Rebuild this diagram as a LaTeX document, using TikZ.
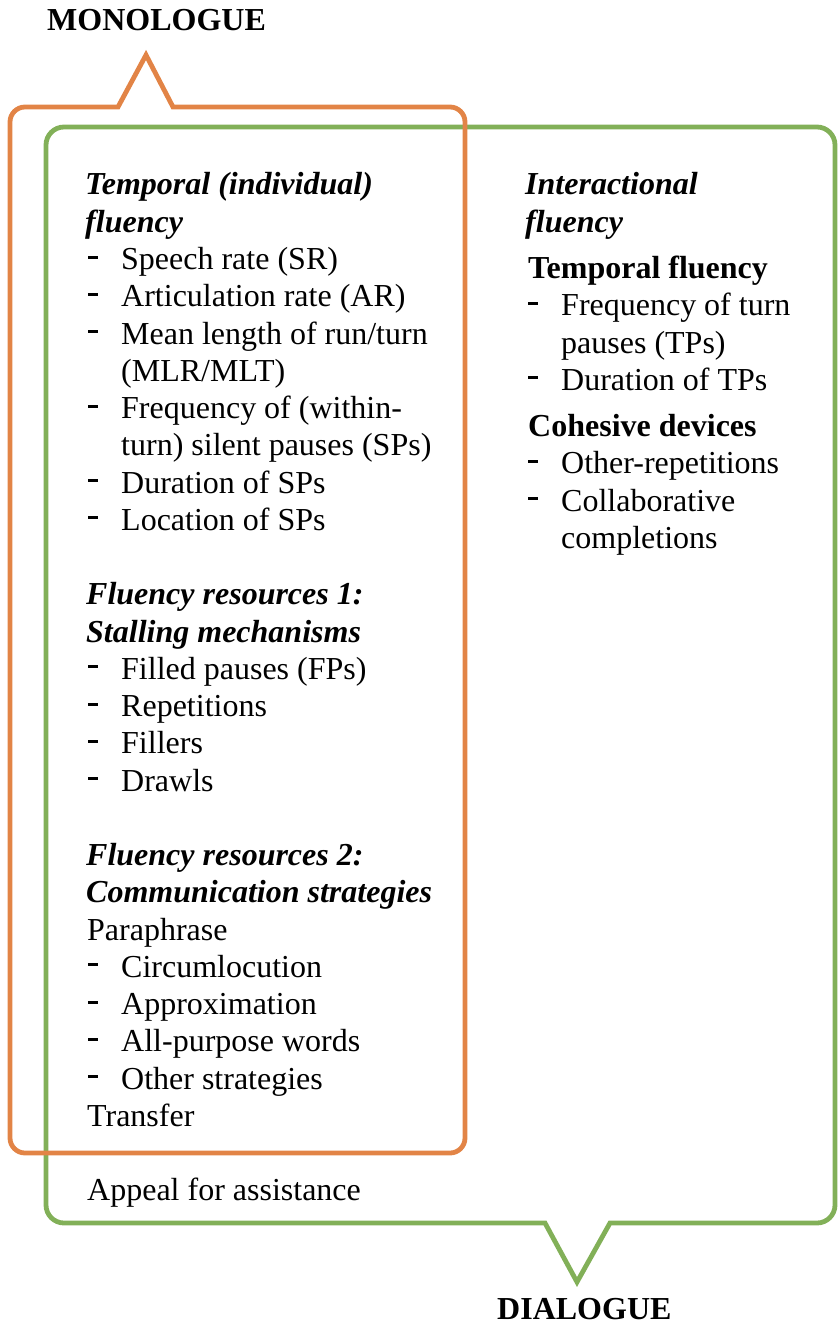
\documentclass[tikz,border=0pt]{standalone}
\usepackage{fontspec}
\setmainfont{Liberation Serif}

\definecolor{monoorange}{RGB}{226,132,70}
\definecolor{dialoggreen}{RGB}{130,176,88}

\newcommand{\dashitem}{\makebox[33pt][l]{\rule[11pt]{10pt}{3pt}}}

\tikzset{
    txt/.style={anchor=base west, inner sep=0pt, font=\fontsize{32}{37}\selectfont},
    head/.style={txt, font=\fontsize{32}{37}\selectfont\bfseries\itshape},
    subhead/.style={txt, font=\fontsize{32}{37}\selectfont\bfseries},
    frame/.style={line width=4.8pt, line join=miter},
}

\begin{document}
\begin{tikzpicture}[x=1pt, y=1pt]
            \useasboundingbox (0,0) rectangle (838,-1324);
            % Rahmen Dialog:
            \draw[frame, dialoggreen] (545,-1223) -- (64,-1223)
                arc[start angle=270, end angle=180, radius=18pt] -- (46,-145)
                arc[start angle=180, end angle=90, radius=18pt] -- (817,-127)
                arc[start angle=90, end angle=0, radius=18pt] -- (835,-1205)
                arc[start angle=0, end angle=-90, radius=18pt] -- (610,-1223)
                -- (577,-1282) -- cycle;
            % Rahmen Monolog:
            \draw[frame, monoorange] (173,-107) -- (450,-107)
                arc[start angle=90, end angle=0, radius=15pt] -- (465,-1138)
                arc[start angle=0, end angle=-90, radius=15pt] -- (25,-1153)
                arc[start angle=270, end angle=180, radius=15pt] -- (10,-122)
                arc[start angle=180, end angle=90, radius=15pt] -- (118,-107)
                -- (146,-55) -- cycle;
            % Titel:
            \node[subhead] (mono) at (47,-31) {MONOLOGUE};
            \node[subhead] (dial) at (497,-1319) {DIALOGUE};
            % linke Spalte, temporal:
            \node[head] (tempA) at (85,-195) {Temporal (individual)};
            \node[head] (tempB) at (85,-232.3) {fluency};
            \node[txt] (sr) at (88,-269.5) {\dashitem Speech rate (SR)};
            \node[txt] (ar) at (88,-306.8) {\dashitem Articulation rate (AR)};
            \node[txt] (mlr) at (88,-344) {\dashitem Mean length of run/turn};
            \node[txt] (mlrB) at (121,-381.3) {(MLR/MLT)};
            \node[txt] (sp) at (88,-418.5) {\dashitem Frequency of (within-};
            \node[txt] (spB) at (121,-455.8) {turn) silent pauses (SPs)};
            \node[txt] (dursp) at (88,-493) {\dashitem Duration of SPs};
            \node[txt] (locsp) at (88,-530.3) {\dashitem Location of SPs};
            % linke Spalte, Ressourcen 1:
            \node[head] (resA) at (86,-604.8) {Fluency resources 1:};
            \node[head] (resB) at (86,-642) {Stalling mechanisms};
            \node[txt] (fp) at (88,-679.3) {\dashitem Filled pauses (FPs)};
            \node[txt] (rep) at (88,-716.5) {\dashitem Repetitions};
            \node[txt] (fill) at (88,-753.8) {\dashitem Fillers};
            \node[txt] (drawl) at (88,-791) {\dashitem Drawls};
            % linke Spalte, Ressourcen 2:
            \node[head] (comA) at (86,-865.5) {Fluency resources 2:};
            \node[head] (comB) at (86,-902.8) {Communication strategies};
            \node[txt] (para) at (87,-940) {Paraphrase};
            \node[txt] (circ) at (88,-977.3) {\dashitem Circumlocution};
            \node[txt] (approx) at (88,-1014.5) {\dashitem Approximation};
            \node[txt] (allp) at (88,-1051.8) {\dashitem All-purpose words};
            \node[txt] (other) at (88,-1089) {\dashitem Other strategies};
            \node[txt] (transf) at (87,-1126.3) {Transfer};
            \node[txt] (appeal) at (87,-1200.8) {Appeal for assistance};
            % rechte Spalte:
            \node[head] (interA) at (525,-195) {Interactional};
            \node[head] (interB) at (525,-232.3) {fluency};
            \node[subhead] (tempfl) at (528,-278.5) {Temporal fluency};
            \node[txt] (freqtp) at (528,-315.8) {\dashitem Frequency of turn};
            \node[txt] (freqtpB) at (561,-353) {pauses (TPs)};
            \node[txt] (durtp) at (528,-390.3) {\dashitem Duration of TPs};
            \node[subhead] (cohes) at (528,-436.5) {Cohesive devices};
            \node[txt] (otherrep) at (528,-473.8) {\dashitem Other-repetitions};
            \node[txt] (collab) at (528,-511) {\dashitem Collaborative};
            \node[txt] (collabB) at (561,-548.3) {completions};
\end{tikzpicture}
\end{document}
